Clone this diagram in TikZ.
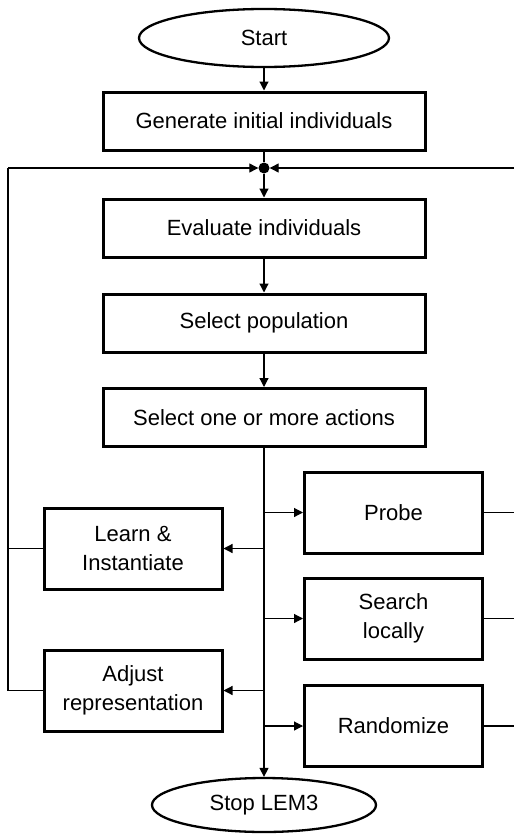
\documentclass[tikz,border=0pt]{standalone}
\usepackage{fontspec}
\setmainfont{Liberation Sans}
\usetikzlibrary{
    arrows.meta,
    shapes,
    positioning,
    calc
}

\begin{document}
\begin{tikzpicture}[x=1pt,y=-1pt,
    box/.style={draw,line width=3pt,minimum width=322pt,minimum height=58pt,inner sep=0pt,font=\fontsize{22}{29}\selectfont},
    act/.style={draw,line width=3pt,minimum width=178pt,minimum height=81pt,inner sep=0pt,align=center,font=\fontsize{22}{29}\selectfont},
    term/.style={draw,ellipse,line width=2.3pt,inner sep=0pt,font=\fontsize{22}{29}\selectfont},
    wire/.style={line width=1.2pt},
    conn/.style={wire,-{Triangle[length=9pt,width=9pt]}}]
    \useasboundingbox (0,0) rectangle (514,835);
    % main column
    \node[term,minimum width=250pt,minimum height=58pt] (start) at (264,38) {Start};
    \node[box] (gen) at (264,121) {Generate initial individuals};
    \node[circle,fill,inner sep=0pt,minimum size=11pt] (junc) at (264,168) {};
    \node[box] (eval) at (264,228) {Evaluate individuals};
    \node[box] (selpop) at (264,323) {Select population};
    \node[box] (selact) at (264,417.5) {Select one or more actions};
    \node[term,minimum width=224pt,minimum height=54pt] (stop) at (264,805) {Stop LEM3};
    % actions
    \node[act] (probe) at (393.5,512.5) {Probe};
    \node[act] (search) at (393.5,618.5) {Search\\locally};
    \node[act] (rand) at (393.5,726) {Randomize};
    \node[act] (learn) at (133,548.5) {Learn \&\\Instantiate};
    \node[act] (adjust) at (133,690.5) {Adjust\\representation};
    \coordinate (lft) at (8,168);
    \coordinate (rgt) at (514,168);
    % connectors
    \draw[conn] (start) -- (gen);
    \draw[wire] (gen) -- (junc);
    \draw[conn] (junc) -- (eval);
    \draw[conn] (eval) -- (selpop);
    \draw[conn] (selpop) -- (selact);
    \draw[conn] (selact) -- (stop);
    \draw[conn] (lft) -- (junc);
    \draw[conn] (rgt) -- (junc);
    \foreach \n in {probe,search,rand} {
        \draw[conn] (selact.south |- \n.west) -- (\n.west);
        \draw[wire] (\n.east) -- (\n.east -| rgt);
    }
    \foreach \n in {learn,adjust} \draw[conn] (selact.south |- \n.east) -- (\n.east);
    \draw[wire] (adjust.west) -| (lft);
    \draw[wire] (learn.west) -- (learn.west -| lft);
\end{tikzpicture}
\end{document}
